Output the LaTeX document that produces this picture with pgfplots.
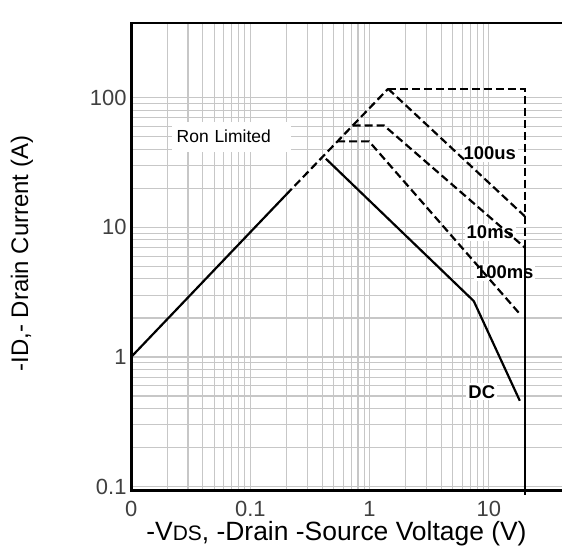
\documentclass[border=0pt]{standalone}
\usepackage{pgfplots}
\pgfplotsset{compat=1.18}
\usepackage{fontspec}
\setmainfont{Liberation Sans}
\begin{document}
\begin{tikzpicture}
\begin{axis}[
  at={(0,0)}, anchor=south west,
  scale only axis, width=431.5bp, height=469bp,
  xmode=log, ymode=log,
  xmin=0.01, xmax=40.8, ymin=0.093, ymax=377,
  axis line style={draw=none},
  grid=both,
  major grid style={draw=black!22, line width=1.1bp},
  minor grid style={draw=black!22, line width=1.1bp},
  major tick length=0pt, minor tick length=0pt,
  xtick={0.01,0.1,1,10}, xticklabels={0,0.1,1,10},
  ytick={0.1,1,10,100}, yticklabels={0.1,1,10,100},
  tick label style={font=\fontsize{22bp}{26bp}\selectfont, text=black!75},
  xticklabel style={anchor=north, inner sep=0pt, yshift=-10bp},
  yticklabel style={anchor=east, inner sep=0pt, xshift=-4.5bp},
  xlabel={-V{\fontsize{21bp}{24bp}\selectfont DS}, -Drain -Source Voltage (V)},
  ylabel={-ID,- Drain Current (A)},
  xlabel style={font=\fontsize{26.5bp}{30bp}\selectfont, at={(axis description cs:0.477,-0.0917)}, anchor=center},
  ylabel style={font=\fontsize{24bp}{28bp}\selectfont, at={(axis description cs:-0.2538,0.507)}, anchor=center},
  clip=false,
]
\node[fill=white, anchor=west, inner xsep=5bp, inner ysep=0pt, minimum height=30bp, text width=110bp, font=\fontsize{17.5bp}{20bp}\selectfont] at (axis cs:0.0218,50) {Ron Limited};
\node[fill=white, inner sep=2bp, font=\fontsize{18.5bp}{21bp}\selectfont\bfseries] at (axis cs:10.2,37.1) {100us};
\node[fill=white, inner sep=2bp, font=\fontsize{18.5bp}{21bp}\selectfont\bfseries] at (axis cs:10.3,9.15) {10ms};
\node[fill=white, inner sep=2bp, font=\fontsize{18.5bp}{21bp}\selectfont\bfseries] at (axis cs:13.6,4.5) {100ms};
\node[fill=white, inner sep=2bp, font=\fontsize{18.5bp}{21bp}\selectfont\bfseries] at (axis cs:8.73,0.538) {DC};
% Ron limited, solid part
\addplot[black, line width=2.2bp] coordinates {(0.01,1) (0.2,17.9)};
% Ron limited, dashed part
\addplot[black, line width=2.2bp, dash pattern=on 8bp off 4bp] coordinates {(0.2,17.9) (1.43,117)};
% 100us
\addplot[black, line width=2.2bp, dash pattern=on 8bp off 4bp] coordinates {(1.43,117) (20,117) (20,7.0)};
\addplot[black, line width=2.2bp, dash pattern=on 8bp off 4bp] coordinates {(1.43,117) (20,12.2)};
% 10ms
\addplot[black, line width=2.2bp, dash pattern=on 8bp off 4bp] coordinates {(0.72,61) (1.32,61) (20,7.0)};
% 100ms
\addplot[black, line width=2.2bp, dash pattern=on 8bp off 4bp] coordinates {(0.535,46) (0.99,46) (17.8,2.2)};
% DC
\addplot[black, line width=2.2bp] coordinates {(0.43,33.8) (7.48,2.7) (18.2,0.46)};
% VDS limit
\addplot[black, line width=2.2bp] coordinates {(20,7.0) (20,0.087)};
\draw[line width=2.8bp] (rel axis cs:1,1) -- (rel axis cs:0,1) -- (rel axis cs:0,0) -- (rel axis cs:1,0);
\end{axis}
\path (-131.5bp,-57bp) rectangle (431.5bp,492bp);
\end{tikzpicture}
\end{document}
